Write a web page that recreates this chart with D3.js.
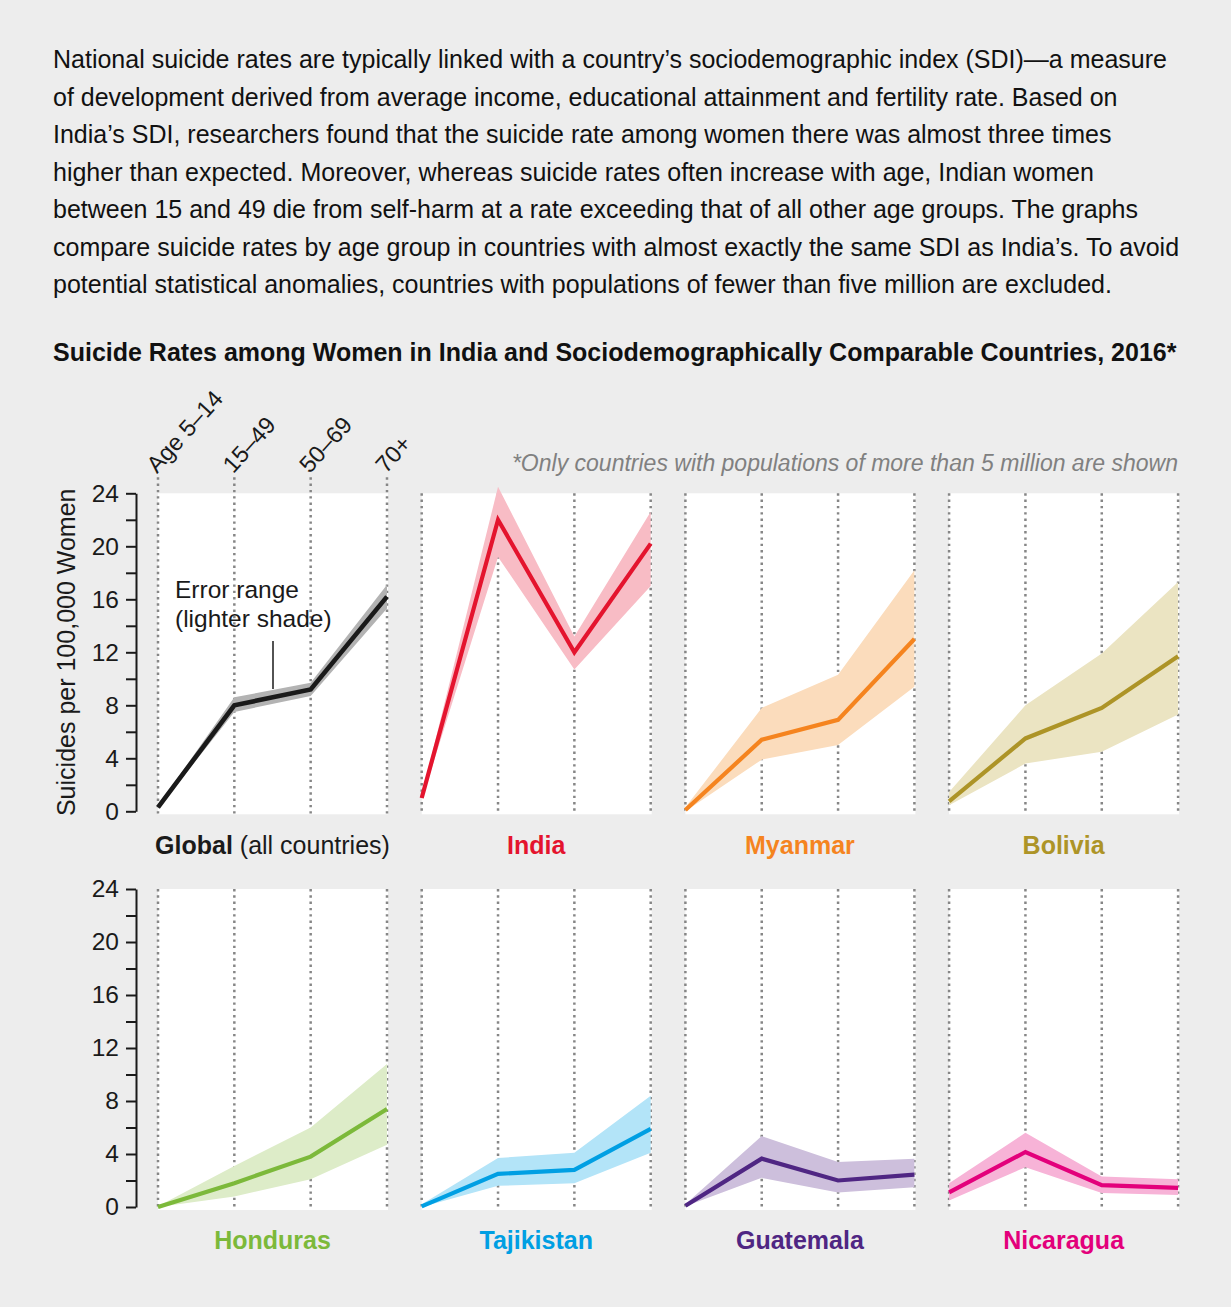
<!DOCTYPE html>
<html>
<head>
<meta charset="utf-8">
<script src="https://cdn.jsdelivr.net/npm/d3@7"></script>
<style>
  body { margin: 0; background: #ededed; }
  svg { display: block; font-family: "Liberation Sans", Arial, sans-serif; }
</style>
</head>
<body>
<svg id="chart" width="1231" height="1307"></svg>
<script>
const ages = ["Age 5–14", "15–49", "50–69", "70+"];
const countries = ["Global", "India", "Myanmar", "Bolivia", "Honduras", "Tajikistan", "Guatemala", "Nicaragua"];
const lineColors = ["#1a1a1a", "#e4142e", "#f5841f", "#ad9427", "#7cb93a", "#009fe3", "#4f2683", "#e3007b"];
const bandColors = ["#b3b3b3", "#f8bcc5", "#fbdcbc", "#ebe4c2", "#ddecc8", "#b3e4f8", "#cdbfdc", "#f7b3d7"];

// suicides per 100,000 women, by age group
const midRates = [
  [0.3, 8.0, 9.2, 16.2],
  [1.0, 22.0, 12.0, 20.2],
  [0.1, 5.4, 6.9, 13.0],
  [0.75, 5.5, 7.8, 11.7],
  [0.0, 1.8, 3.8, 7.4],
  [0.05, 2.5, 2.8, 5.9],
  [0.1, 3.65, 2.0, 2.45],
  [1.1, 4.15, 1.65, 1.45]
];
const lowRates = [
  [0.2, 7.5, 8.7, 15.3],
  [0.85, 19.2, 10.7, 17.0],
  [0.0, 3.9, 5.0, 9.4],
  [0.45, 3.6, 4.5, 7.3],
  [0.0, 0.8, 2.1, 4.7],
  [0.0, 1.6, 1.8, 4.1],
  [0.05, 2.2, 1.1, 1.5],
  [0.5, 3.0, 1.05, 0.9]
];
const highRates = [
  [0.4, 8.6, 9.7, 17.1],
  [1.2, 24.5, 13.2, 22.6],
  [0.3, 7.8, 10.3, 18.2],
  [1.45, 8.0, 11.9, 17.3],
  [0.05, 3.1, 6.0, 10.8],
  [0.2, 3.7, 4.1, 8.4],
  [0.2, 5.35, 3.4, 3.65],
  [1.8, 5.6, 2.3, 2.1]
];
const yTicks = [0, 2, 4, 6, 8, 10, 12, 14, 16, 18, 20, 22, 24];

const intro = [
  "National suicide rates are typically linked with a country’s sociodemographic index (SDI)—a measure",
  "of development derived from average income, educational attainment and fertility rate. Based on",
  "India’s SDI, researchers found that the suicide rate among women there was almost three times",
  "higher than expected. Moreover, whereas suicide rates often increase with age, Indian women",
  "between 15 and 49 die from self-harm at a rate exceeding that of all other age groups. The graphs",
  "compare suicide rates by age group in countries with almost exactly the same SDI as India’s. To avoid",
  "potential statistical anomalies, countries with populations of fewer than five million are excluded."
];

const svg = d3.select("#chart");

svg.append("g").selectAll("text")
  .data(intro)
  .join("text")
  .attr("x", 53)
  .attr("y", (d, i) => 68 + i * 37.5)
  .attr("font-size", 25)
  .attr("fill", "#111")
  .text(d => d);

svg.append("text")
  .attr("x", 53).attr("y", 361)
  .attr("font-size", 25).attr("font-weight", "bold").attr("fill", "#111")
  .text("Suicide Rates among Women in India and Sociodemographically Comparable Countries, 2016*");

svg.append("text")
  .attr("x", 1178).attr("y", 471)
  .attr("text-anchor", "end")
  .attr("font-size", 23).attr("font-style", "italic").attr("fill", "#808080")
  .text("*Only countries with populations of more than 5 million are shown");

const panelW = 229, panelH = 318;
const colStep = 263.7;
const rowTops = [493.3, 889];
const firstLeft = 158;

const x = d3.scalePoint().domain(ages).range([0, panelW]);
const y = d3.scaleLinear().domain([0, 24]).range([panelH, 0]);

const area = d3.area()
  .x((d, i) => x(ages[i]))
  .y0(d => y(d[0]))
  .y1(d => y(d[1]));
const line = d3.line()
  .x((d, i) => x(ages[i]))
  .y(d => y(d));

countries.forEach((name, i) => {
  const col = i % 4, row = Math.floor(i / 4);
  const g = svg.append("g")
    .attr("transform", `translate(${firstLeft + col * colStep},${rowTops[row]})`);

  g.append("rect")
    .attr("x", 0).attr("y", 0)
    .attr("width", panelW + 1).attr("height", panelH + 3)
    .attr("fill", "#fff");

  const top = (i === 0) ? -16 : 0;
  g.selectAll(".grid")
    .data(ages)
    .join("line")
    .attr("x1", d => x(d)).attr("x2", d => x(d))
    .attr("y1", top).attr("y2", panelH + 3)
    .attr("stroke", "#868686")
    .attr("stroke-width", 2.5)
    .attr("stroke-dasharray", "2.4,3.9");

  const band = lowRates[i].map((lo, k) => [lo, highRates[i][k]]);
  g.append("path")
    .attr("d", area(band))
    .attr("fill", bandColors[i]);

  g.append("path")
    .attr("d", line(midRates[i]))
    .attr("fill", "none")
    .attr("stroke", lineColors[i])
    .attr("stroke-width", i === 0 ? 4.6 : 4.2)
    .attr("stroke-linejoin", "miter");

  const label = g.append("text")
    .attr("x", panelW / 2)
    .attr("y", row === 0 ? 361 : 360)
    .attr("text-anchor", "middle")
    .attr("font-size", 25)
    .attr("fill", lineColors[i]);
  label.append("tspan").attr("font-weight", "bold").text(name);
  if (i === 0) label.append("tspan").attr("fill", "#1a1a1a").text(" (all countries)");

  if (col === 0) {
    const axis = d3.axisLeft(y)
      .tickValues(yTicks)
      .tickSize(10)
      .tickSizeOuter(0)
      .tickPadding(7)
      .tickFormat(d => d % 4 === 0 ? d : "");
    const ag = g.append("g")
      .attr("transform", "translate(-22,0)")
      .call(axis);
    ag.select(".domain").attr("stroke", "#1a1a1a").attr("stroke-width", 2);
    ag.selectAll(".tick line").attr("stroke", "#1a1a1a").attr("stroke-width", 2);
    ag.selectAll(".tick text")
      .attr("font-size", 24.5)
      .attr("font-family", "Liberation Sans, Arial, sans-serif")
      .attr("fill", "#1a1a1a");
  }

  if (i === 0) {
    // rotated age labels
    g.selectAll(".age")
      .data(ages)
      .join("text")
      .attr("transform", d => `translate(${x(d) - 1},${-19}) rotate(-48)`)
      .attr("font-size", 23.5)
      .attr("fill", "#1a1a1a")
      .text(d => d);

    // y-axis title
    g.append("text")
      .attr("transform", `translate(${75 - firstLeft},${panelH / 2}) rotate(-90)`)
      .attr("text-anchor", "middle")
      .attr("font-size", 25)
      .attr("fill", "#1a1a1a")
      .text("Suicides per 100,000 Women");

    // annotation
    g.append("text")
      .attr("x", 175 - firstLeft).attr("y", 598 - rowTops[0])
      .attr("font-size", 24.5).attr("fill", "#1a1a1a")
      .text("Error range");
    g.append("text")
      .attr("x", 175 - firstLeft).attr("y", 627 - rowTops[0])
      .attr("font-size", 24.5).attr("fill", "#1a1a1a")
      .text("(lighter shade)");
    g.append("line")
      .attr("x1", 273 - firstLeft).attr("x2", 273 - firstLeft)
      .attr("y1", 641 - rowTops[0]).attr("y2", 689 - rowTops[0])
      .attr("stroke", "#1a1a1a").attr("stroke-width", 1.5);
  }
});
</script>
</body>
</html>
